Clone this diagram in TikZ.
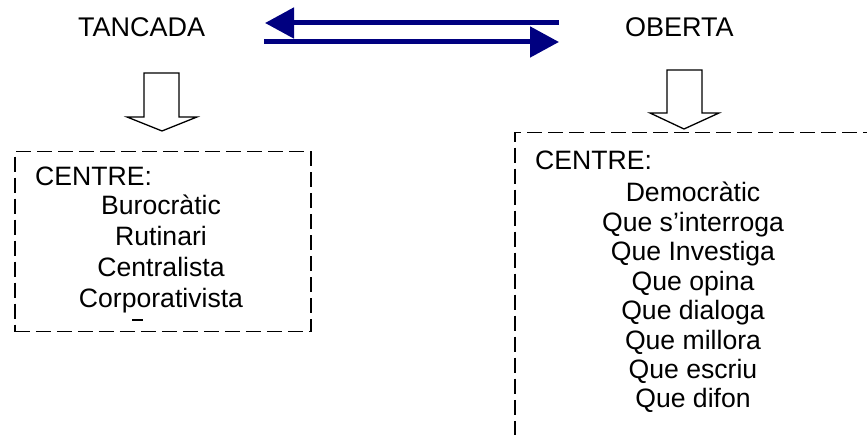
\documentclass[tikz,border=0pt]{standalone}
\usepackage{fontspec}
\setmainfont{Liberation Sans}
\usetikzlibrary{arrows.meta}
\definecolor{navyblue}{HTML}{000080}
\begin{document}
\begin{tikzpicture}[x=1pt,y=-1pt,
  lbl/.style={font=\fontsize{26.6}{31}\selectfont, inner sep=0pt, anchor=base west},
  item/.style={font=\fontsize{26.6}{31}\selectfont, inner sep=0pt, anchor=base},
  dashbox/.style={draw, line width=1.5pt, dash pattern=on 15pt off 6pt, inner sep=0pt, anchor=north west},
  blockarrow/.style={draw, line width=1.3pt, fill=white, line join=miter},
  bluearrow/.style={draw=navyblue, line width=5pt, -{Triangle[length=29pt,width=30pt]}}]
\useasboundingbox (0,0) rectangle (867,435);
\clip (0,0) rectangle (867,435);

% titles
\node[lbl, font=\fontsize{27}{31}\selectfont] (tancada) at (78,37) {TANCADA};
\node[lbl, font=\fontsize{27}{31}\selectfont] (oberta) at (625,37) {OBERTA};

% blue arrows
\coordinate (a1s) at (559,23);
\coordinate (a1e) at (265,23);
\coordinate (a2s) at (264,42);
\coordinate (a2e) at (559,42);
\draw[bluearrow] (a1s) -- (a1e);
\draw[bluearrow] (a2s) -- (a2e);

% boxes
\node[dashbox, minimum width=296pt, minimum height=180pt] (lbox) at (14,151) {};
\node[dashbox, minimum width=400pt, minimum height=340pt] (rbox) at (514,132) {};

% hollow block arrows
\coordinate (lt) at (162,131);
\draw[blockarrow] (144,73) -- (179,73) -- (179,117) -- (197,117) -- (lt) -- (127,117) -- (144,117) -- cycle;
\coordinate (rt) at (684,129);
\draw[blockarrow] (667,70) -- (702,70) -- (702,113) -- (719,113) -- (rt) -- (650,113) -- (667,113) -- cycle;

% left box text
\node[lbl] (lc) at (35,186) {CENTRE:};
\node[item] (l1) at (161,215) {Burocràtic};
\node[item] (l2) at (161,246) {Rutinari};
\node[item] (l3) at (161,277) {Centralista};
\node[item] (l4) at (161,308) {Corporativista};
\draw[line width=1.3pt] (132,320) -- (143,320);

% right box text
\node[lbl] (rc) at (535,170) {CENTRE:};
\node[item] (r1) at (693,202) {Democràtic};
\node[item] (r2) at (693,231.4) {Que s’interroga};
\node[item] (r3) at (693,260.8) {Que Investiga};
\node[item] (r4) at (693,290.2) {Que opina};
\node[item] (r5) at (693,319.6) {Que dialoga};
\node[item] (r6) at (693,349) {Que millora};
\node[item] (r7) at (693,378.4) {Que escriu};
\node[item] (r8) at (693,407.8) {Que difon};
\end{tikzpicture}
\end{document}
